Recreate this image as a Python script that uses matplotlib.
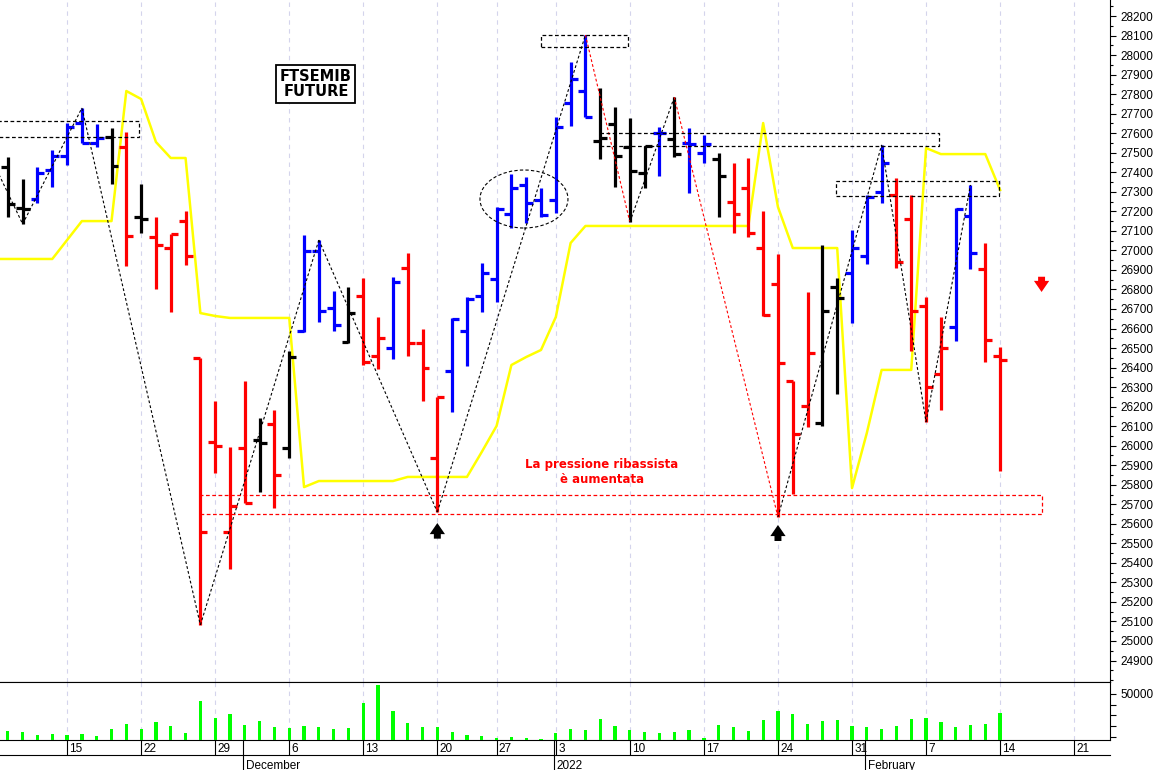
import matplotlib.pyplot as plt
import matplotlib.transforms as mtransforms
from matplotlib.patches import Rectangle, Ellipse
from matplotlib.lines import Line2D
from matplotlib.ticker import MultipleLocator

plt.rcParams['font.family'] = ['Liberation Sans', 'DejaVu Sans']

# FTSEMIB future daily bars, 9 Nov 2021 .. 14 Feb 2022 (x = trading day index)
opens = [27427, 27218, 27263, 27412, 27483, 27652, 27550, 27580, 27529, 27171,
         27068, 27012, 27150, 26449, 26019, 25558, 25988, 26029, 26111, 25988,
         26587, 26997, 26705, 26531, 26766, 26459, 26500, 26910, 26526, 25937,
         26382, 26587, 26766, 26853, 27186, 27335, 27258, 27258, 27755, 27816,
         27560, 27647, 27529, 27396, 27601, 27570, 27550, 27499, 27468, 27248,
         27319, 27012, 26828, 26331, 26203, 26116, 26812, 26884, 26971, 27299,
         27284, 27161, 26715, 26367, 26608, 27176, 26905, 26459]
highs = [27478, 27365, 27427, 27514, 27652, 27729, 27647, 27627, 27606, 27340,
         27171, 27084, 27202, 26449, 26229, 25993, 26331, 26142, 26183, 26485,
         27079, 27053, 26792, 26812, 26859, 26659, 26864, 26987, 26597, 26249,
         26654, 26761, 26935, 27222, 27391, 27376, 27319, 27683, 27964, 28103,
         27831, 27734, 27678, 27534, 27632, 27785, 27627, 27591, 27499, 27447,
         27473, 27202, 26981, 26331, 26787, 27028, 26859, 27104, 27284, 27540,
         27371, 27284, 26761, 26659, 27217, 27335, 27038, 26505]
lows = [27171, 27135, 27243, 27324, 27437, 27550, 27529, 27340, 26920, 27089,
        26802, 26684, 26925, 25082, 25860, 25369, 25707, 25763, 25681, 25937,
        26582, 26633, 26587, 26526, 26413, 26393, 26444, 26459, 26229, 25660,
        26172, 26408, 26684, 26736, 27115, 27140, 27171, 27191, 27637, 27683,
        27468, 27324, 27145, 27319, 27381, 27478, 27294, 27447, 27171, 27089,
        27068, 26664, 25635, 25753, 26096, 26101, 26265, 26628, 26930, 27243,
        26910, 26485, 26121, 26183, 26536, 26905, 26428, 25870]
closes = [27237, 27210, 27396, 27483, 27632, 27550, 27575, 27432, 27074, 27161,
          27028, 27084, 26971, 25558, 25998, 25691, 25707, 26014, 25850, 26454,
          26997, 26690, 26618, 26679, 26428, 26551, 26838, 26526, 26398, 26249,
          26649, 26751, 26884, 27212, 27319, 27243, 27181, 27632, 27877, 27683,
          27575, 27483, 27406, 27534, 27601, 27493, 27545, 27545, 27381, 27186,
          27089, 26669, 26423, 26060, 26475, 26690, 26756, 27012, 27273, 27447,
          26940, 26690, 26300, 26500, 27212, 26987, 26541, 26439]
# k = neutral, b = up trend, r = down trend
bar_kind = list('kkbbbbbkrk' 'rrrrrrrkrk' 'bbbkrrbrrr' 'bbbbbbbbbb'
                'kkkkbkbbkr' 'rrrrrkkbbb' 'rrrrbbrr')
volumes = [15600, 14600, 11900, 12800, 11900, 12800, 11200, 17200, 22400, 17200,
           24200, 20200, 13400, 43500, 27900, 31700, 21200, 24900, 19000, 18600,
           20200, 19600, 17200, 18100, 41300, 58400, 34200, 23000, 19000, 19600,
           14400, 11900, 10900, 9100, 10000, 9300, 8100, 13400, 17200, 16500,
           26500, 20200, 16200, 14600, 13400, 14600, 16200, 8800, 21200, 19000,
           15600, 25800, 34200, 31400, 22100, 24900, 25800, 20500, 19600, 17400,
           20200, 26700, 27700, 24200, 19000, 21200, 22100, 32000]
# trailing stop line, starts one day before the first bar
stop_x0 = -1
stop_line = [26956, 26956, 26956, 26956, 26956, 27053, 27150, 27150, 27150, 27816, 27775,
             27555, 27473, 27473, 26679, 26664, 26654, 26654, 26654, 26654, 26654,
             25788, 25819, 25819, 25819, 25819, 25819, 25819, 25840, 25840, 25840,
             25840, 25840, 25968, 26101, 26413, 26454, 26490, 26659, 27038, 27125,
             27125, 27125, 27125, 27125, 27125, 27125, 27125, 27125, 27125, 27125,
             27125, 27652, 27222, 27012, 27012, 27012, 27012, 25783, 26065, 26388,
             26388, 26388, 27524, 27493, 27493, 27493, 27493, 27309]

# zigzag pivots
zz_x = [-1, 1, 5, 13, 21, 29, 39, 42, 45, 52, 59, 62, 65]
zz_y = [27452, 27135, 27729, 25082, 27053, 25660, 28103, 27145, 27785, 25635, 27540, 26121, 27335]
zz_red = [6, 8]

week_pos = [4, 9, 14, 19, 24, 29, 33, 37, 42, 47, 52, 57, 62, 67, 72]
week_lab = ['15', '22', '29', '6', '13', '20', '27', '3', '10', '17', '24', '31', '7', '14', '21']
month_pos = [16, 37, 58]
month_lab = ['December', '2022', 'February']

kind_color = {'k': 'black', 'b': '#0000ff', 'r': '#ff0000'}
n = len(opens)
xs = list(range(n))
cols = [kind_color[k] for k in bar_kind]

fig = plt.figure(figsize=(11.57, 7.70), dpi=100)
W, H = 1157, 770
ax = fig.add_axes([0, 88 / H, 1110 / W, 682 / H])
axv = fig.add_axes([0, 30 / H, 1110 / W, 58 / H], sharex=ax)

grid_kw = dict(color='#d4d4ec', lw=0.8, ls=(0, (4, 4)), zorder=0)
for wp in week_pos:
    ax.axvline(wp, **grid_kw)
    axv.axvline(wp, **grid_kw)

# yellow trailing line
ax.plot(range(stop_x0, stop_x0 + len(stop_line)), stop_line, color='#ffff00', lw=1.8, zorder=2)

# OHLC bars
ax.vlines(xs, lows, highs, colors=cols, lw=2.3, zorder=3)
ax.hlines(opens, [x - 0.47 for x in xs], xs, colors=cols, lw=2.3, zorder=3)
ax.hlines(closes, xs, [x + 0.47 for x in xs], colors=cols, lw=2.3, zorder=3)

# zigzag
for i in range(len(zz_x) - 1):
    c = 'red' if i in zz_red else 'black'
    ax.plot(zz_x[i:i + 2], zz_y[i:i + 2], color=c, lw=0.8, ls=(0, (2.5, 2)), zorder=4)

# dashed boxes
box_kw = dict(fill=False, ec='black', lw=0.9, ls=(0, (3, 2)), zorder=4)
for x0, x1, y0, y1 in [(-1, 8.86, 27580, 27662), (36.0, 41.9, 28041, 28103),
                       (40.0, 62.9, 27534, 27601), (55.9, 66.9, 27278, 27355)]:
    ax.add_patch(Rectangle((x0, y0), x1 - x0, y1 - y0, **box_kw))
ax.add_patch(Rectangle((13.0, 25650), 69.8 - 13.0, 98, fill=False, ec='red', lw=0.9,
                       ls=(0, (3, 2)), zorder=4))
ax.add_patch(Ellipse((34.85, 27263), 5.94, 297, fill=False, ec='black', lw=0.8,
                     ls=(0, (3, 2)), zorder=4))

# texts
ax.text(20.8, 27852, 'FTSEMIB\nFUTURE', family='DejaVu Sans', weight='bold', fontsize=10.5,
        ha='center', va='center', linespacing=1.0, zorder=6,
        bbox=dict(boxstyle='square,pad=0.25', fc='white', ec='black', lw=1.3))
ax.text(40.1, 25865, 'La pressione ribassista\nè aumentata', family='DejaVu Sans',
        weight='bold', fontsize=8.5, color='#ff0000', ha='center', va='center',
        linespacing=1.2, zorder=6)

# arrows
arr = dict(arrowstyle='simple,head_width=0.55,head_length=0.4,tail_width=0.25',
           mutation_scale=20, lw=0, shrinkA=0, shrinkB=0)
ax.annotate('', xy=(29, 25604), xytext=(29, 25524), arrowprops=dict(fc='black', **arr), zorder=6)
ax.annotate('', xy=(52, 25594), xytext=(52, 25512), arrowprops=dict(fc='black', **arr), zorder=6)
ax.annotate('', xy=(69.8, 26787), xytext=(69.8, 26865), arrowprops=dict(fc='#ff0000', **arr), zorder=6)

ax.set_xlim(-0.53, 74.42)
ax.set_ylim(24790, 28282)
ax.yaxis.tick_right()
ax.set_yticks(range(24900, 28201, 100))
ax.yaxis.set_minor_locator(MultipleLocator(50))
ax.tick_params(axis='y', which='major', direction='out', length=4.5, width=0.8, labelsize=8.5, pad=3)
ax.tick_params(axis='y', which='minor', direction='out', length=2.5, width=0.8)
ax.tick_params(axis='x', which='both', bottom=False, labelbottom=False)
for s in ['top', 'left']:
    ax.spines[s].set_visible(False)

# volume
axv.bar(xs, volumes, width=0.22, color='#00ff00', zorder=3)
axv.set_ylim(7200, 61100)
axv.yaxis.tick_right()
axv.set_yticks([10000, 20000, 30000, 40000, 50000])
axv.set_yticklabels(['', '', '', '', '50000'])
axv.tick_params(axis='y', direction='out', length=4.5, width=0.8, labelsize=8.5, pad=3)
axv.set_xticks(week_pos)
axv.set_xticklabels([])
axv.tick_params(axis='x', direction='out', length=10.8, width=0.8)
axv.spines['left'].set_visible(False)

tr = mtransforms.blended_transform_factory(axv.transData, axv.transAxes)
for wp, wl in zip(week_pos, week_lab):
    axv.text(wp + 0.15, -0.16, wl, transform=tr, fontsize=8.5, ha='left', va='center')
for mp, ml in zip(month_pos, month_lab):
    axv.plot([mp - 0.1, mp - 0.1], [0, -0.52], transform=tr, color='black', lw=0.8, clip_on=False)
    axv.text(mp + 0.05, -0.44, ml, transform=tr, fontsize=8.5, ha='left', va='center')
fig.add_artist(Line2D([0, 1110 / W], [15 / H, 15 / H], color='black', lw=0.8))

fig.savefig('out.png', dpi=100)
